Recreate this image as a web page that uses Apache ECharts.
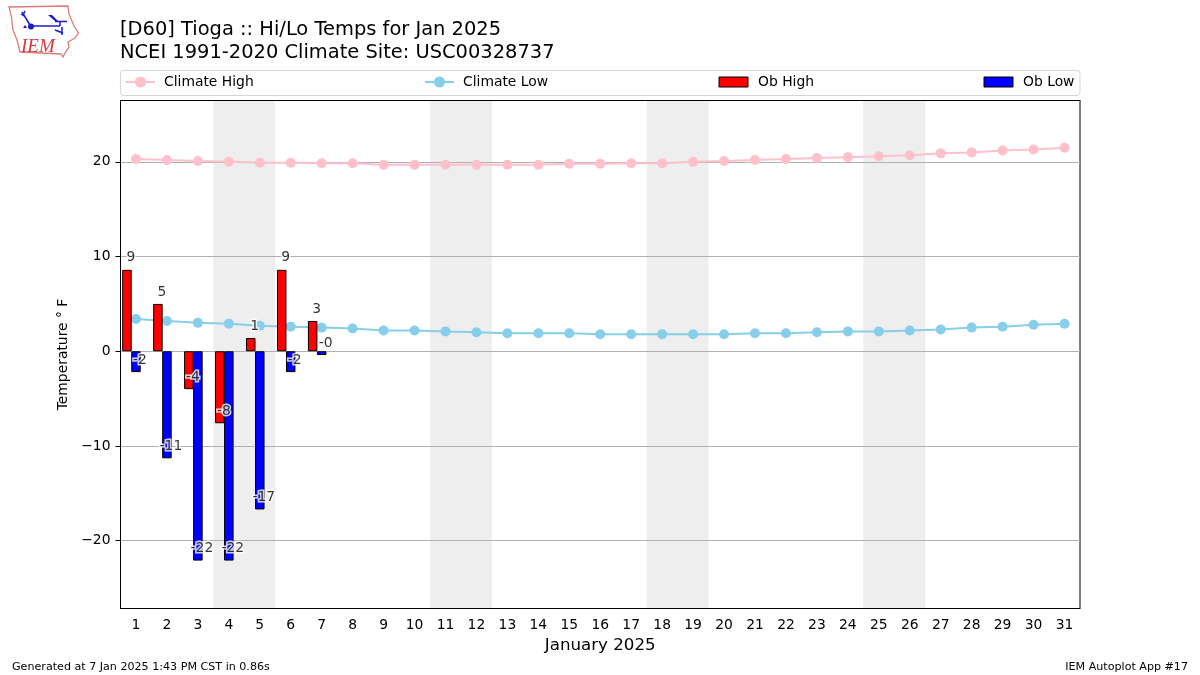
<!DOCTYPE html>
<html>
<head>
<meta charset="utf-8">
<title>Tioga Hi/Lo Temps</title>
<style>
  html, body { margin: 0; padding: 0; background: #fff; }
  #chart { width: 1200px; height: 675px; }
</style>
</head>
<body>
<div id="chart"></div>
<script src="https://cdn.jsdelivr.net/npm/echarts@6/dist/echarts.min.js"></script>
<script>
const days = ["1","2","3","4","5","6","7","8","9","10","11","12","13","14","15","16","17","18","19","20","21","22","23","24","25","26","27","28","29","30","31"];
const climateHigh = [20.3,20.2,20.1,20.0,19.9,19.9,19.85,19.85,19.7,19.7,19.7,19.7,19.7,19.7,19.8,19.8,19.85,19.85,20.0,20.1,20.2,20.3,20.4,20.5,20.6,20.7,20.9,21.0,21.2,21.3,21.5];
const climateLow = [3.4,3.2,3.0,2.9,2.7,2.6,2.5,2.4,2.2,2.2,2.1,2.0,1.9,1.9,1.9,1.8,1.8,1.8,1.8,1.8,1.9,1.9,2.0,2.1,2.1,2.2,2.3,2.5,2.6,2.8,2.9];
const obHigh = [8.6,5,-4,-7.6,1.4,8.6,3.2];
const obLow = [-2.2,-11.3,-22.1,-22.1,-16.7,-2.2,-0.4];
const yTicks = [-20,-10,0,10,20];
const weekends = [[3.5,5.5],[10.5,12.5],[17.5,19.5],[24.5,26.5]];

const FONT = "DejaVu Sans";
const BLUE = "#1a1ad0";
const chart = echarts.init(document.getElementById("chart"));

// logo outline and weather glyphs, drawn by hand since no image can be fetched
const iowa = [[9,7],[68,6],[69,14],[74,26],[78.5,33],[75,38],[68,42],[69,47],[65,53],[63,57],[61,54],[20,52],[17,40],[13,30],[11.5,17]];
const blueLines = [
  [[22,12],[30,25]],
  [[21,14],[24,16]],
  [[25,11],[23,15]],
  [[31,26],[60,26]],
  [[60,21],[60,26]],
  [[55,21.5],[67,21.5]],
  [[62,27],[62,35]],
  [[55,30],[63,33]]
];

function legendAt(name, left, h, icon) {
  const legend = {
    data: [name], left: left, top: 75, padding: 0,
    itemWidth: 29, itemHeight: h, itemGap: 0,
    textStyle: { fontFamily: FONT, fontSize: 13.89, color: "#000", padding: [0, 0, 0, icon ? 5 : 4] }
  };
  if (icon) {
    legend.icon = icon;
    legend.itemStyle = { borderWidth: 1, borderColor: "#000" };
  }
  return legend;
}

function labelSeries(values, dx) {
  return {
    type: "scatter", data: values, symbolSize: 1, z: 6,
    itemStyle: { color: "transparent" }, silent: true,
    label: {
      show: true, position: "inside", offset: [dx, -12],
      fontFamily: FONT, fontSize: 13.89, color: "#000",
      textBorderColor: "#fff", textBorderWidth: 3,
      formatter: p => p.value.toFixed(0)
    }
  };
}

chart.setOption({
  animation: false,
  backgroundColor: "#fff",
  grid: { left: 120.5, top: 100.5, width: 959.5, height: 508, show: true, borderColor: "#000", borderWidth: 1, backgroundColor: "transparent" },
  title: [
    { text: "[D60] Tioga :: Hi/Lo Temps for Jan 2025\nNCEI 1991-2020 Climate Site: USC00328737", left: 120, top: 18.5, padding: 0,
      textStyle: { fontFamily: FONT, fontSize: 19.44, fontWeight: "normal", color: "#000", lineHeight: 23 } },
    { text: "Generated at 7 Jan 2025 1:43 PM CST in 0.86s", left: 12, top: 662, padding: 0,
      textStyle: { fontFamily: FONT, fontSize: 11.11, fontWeight: "normal", color: "#000" } },
    { text: "IEM Autoplot App #17", right: 12, top: 662, padding: 0,
      textStyle: { fontFamily: FONT, fontSize: 11.11, fontWeight: "normal", color: "#000" } }
  ],
  legend: [
    legendAt("Climate High", 125, 14),
    legendAt("Climate Low", 424, 14),
    legendAt("Ob High", 718.5, 10, "rect"),
    legendAt("Ob Low", 983.5, 10, "rect")
  ],
  xAxis: [
    {
      type: "category", data: days, name: "January 2025", nameLocation: "middle", nameGap: 29, z: 1,
      nameTextStyle: { fontFamily: FONT, fontSize: 16.67, color: "#000" },
      axisLine: { onZero: false, lineStyle: { color: "#000" } },
      axisTick: { alignWithLabel: true, length: 5, lineStyle: { color: "#000" } },
      axisLabel: { interval: 0, fontFamily: FONT, fontSize: 13.89, color: "#000", margin: 10 },
      splitLine: { show: false }
    },
    // hidden value axis so the weekend bands can sit on half-day edges; its line closes the top spine
    { type: "value", min: 0.5, max: 31.5, position: "top", z: 1,
      axisLine: { show: true, onZero: false, lineStyle: { color: "#000" } },
      axisTick: { show: false }, axisLabel: { show: false }, splitLine: { show: false } }
  ],
  yAxis: {
    type: "value", min: -27.16, max: 26.48, z: 1,
    name: "Temperature \u00b0 F", nameLocation: "middle", nameGap: 48,
    nameTextStyle: { fontFamily: FONT, fontSize: 13.89, color: "#000" },
    axisLine: { show: true, lineStyle: { color: "#000" } },
    axisTick: { show: true, length: 5, lineStyle: { color: "#000" }, customValues: yTicks },
    axisLabel: { fontFamily: FONT, fontSize: 13.89, color: "#000", margin: 10, padding: [4, 0, 0, 0], customValues: yTicks,
      formatter: v => String(v).replace("-", "\u2212") },
    splitLine: { show: true, lineStyle: { color: "#b0b0b0", width: 1 } }
  },
  series: [
    {
      type: "line", xAxisIndex: 1, data: [], silent: true,
      markArea: {
        z: 0, silent: true,
        itemStyle: { color: "#eeeeee" },
        data: weekends.map(w => [{ xAxis: w[0] }, { xAxis: w[1] }])
      }
    },
    { name: "Climate High", type: "line", data: climateHigh, z: 2, symbol: "circle", symbolSize: 10,
      lineStyle: { color: "#ffc0cb", width: 2 }, itemStyle: { color: "#ffc0cb" } },
    { name: "Climate Low", type: "line", data: climateLow, z: 2, symbol: "circle", symbolSize: 10,
      lineStyle: { color: "#87ceeb", width: 2 }, itemStyle: { color: "#87ceeb" } },
    { name: "Ob High", type: "bar", data: obHigh, z: 4, barWidth: 9.5, barGap: "-5%",
      itemStyle: { color: "#ff0000", borderColor: "#000", borderWidth: 1 } },
    { name: "Ob Low", type: "bar", data: obLow, z: 4, barWidth: 9.5, barGap: "-5%",
      itemStyle: { color: "#0000ff", borderColor: "#000", borderWidth: 1 } },
    // empty third slot keeps the blue bar centred on its tick, as in the original
    { name: "slot", type: "bar", data: [], barWidth: 9.5, barGap: "-5%" },
    labelSeries(obHigh, -5),
    labelSeries(obLow, 4)
  ],
  graphic: [
    { type: "rect", z: -1, shape: { x: 120.5, y: 70.5, width: 959.5, height: 25, r: 3 },
      style: { fill: "#fff", stroke: "#d5d5d5", lineWidth: 1 } },
    { type: "polygon", shape: { points: iowa }, style: { fill: "#fff", stroke: "#e07a7a", lineWidth: 1.3 } }
  ].concat(blueLines.map(pts => ({
    type: "polyline", shape: { points: pts }, style: { fill: "none", stroke: BLUE, lineWidth: 1.5 }
  }))).concat([
    { type: "circle", shape: { cx: 31, cy: 26.5, r: 3 }, style: { fill: BLUE } },
    { type: "polygon", shape: { points: [[48,15],[52,15],[58,21],[55,21]] }, style: { fill: BLUE } },
    { type: "polygon", shape: { points: [[25,25],[27,28],[23,28]] }, style: { fill: BLUE } },
    { type: "text", x: 21, y: 37, style: { text: "IEM", fontFamily: "Liberation Serif", fontStyle: "italic", fontSize: 19, fill: "#d9363e" } }
  ])
});
</script>
</body>
</html>
